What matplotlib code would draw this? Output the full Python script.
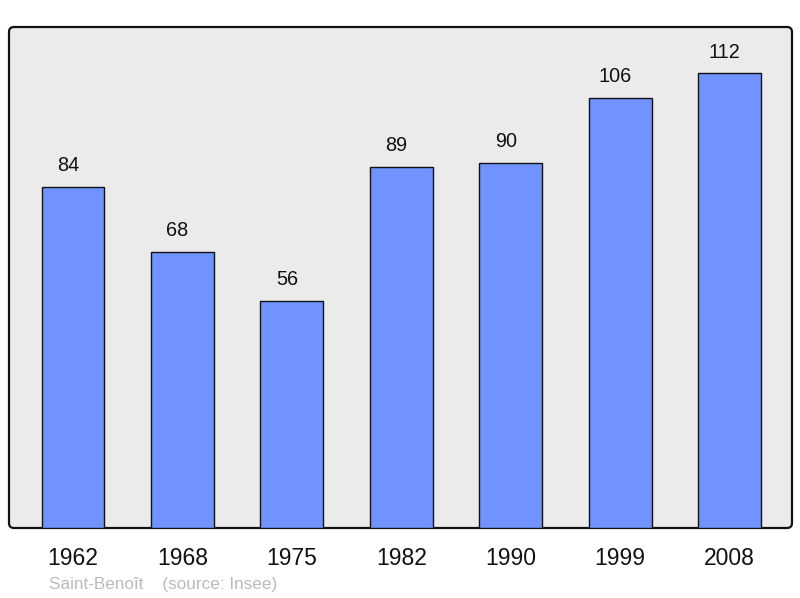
import matplotlib.pyplot as plt
from matplotlib.patches import FancyBboxPatch

plt.rcParams['font.family'] = ['Liberation Sans', 'DejaVu Sans']

years = ["1962", "1968", "1975", "1982", "1990", "1999", "2008"]
population = [84, 68, 56, 89, 90, 106, 112]
commune = "Saint-Benoît"
source = "(source: Insee)"

fig = plt.figure(figsize=(8, 5.98), dpi=100)
ax = fig.add_axes([0.01125, 0.1171, 0.97875, 0.8377])
ax.set_facecolor("none")

# fond gris avec coins arrondis
frame = FancyBboxPatch((0.09, 0.70), 7.83, 5.01, boxstyle="round,pad=0,rounding_size=0.05",
                       transform=fig.dpi_scale_trans, facecolor="#ebebeb",
                       edgecolor="#111111", linewidth=1.6, zorder=0, clip_on=False)
ax.add_patch(frame)

x = range(len(years))
ax.bar(x, population, width=0.575, color="#7093ff", edgecolor="#111111", linewidth=1.0, zorder=2)

for xi, v in zip(x, population):
    ax.annotate(str(v), (xi, v), xytext=(-3.5, 15.2), textcoords="offset points",
                ha="center", va="center", fontsize=14.3, color="#111111")

ax.set_xlim(-0.585, 6.571)
ax.set_ylim(0, 123.4)
ax.set_xticks(list(x))
ax.set_xticklabels(years, fontsize=16.5, color="#111111")
ax.tick_params(axis="x", length=0, pad=13.5)
ax.set_yticks([])
for s in ax.spines.values():
    s.set_visible(False)

fig.text(49 / 800, 1 - 585 / 598, commune + "    " + source, fontsize=12.3,
         color="#bbbbbb", ha="left", va="center")

fig.savefig("out.png", dpi=100)
